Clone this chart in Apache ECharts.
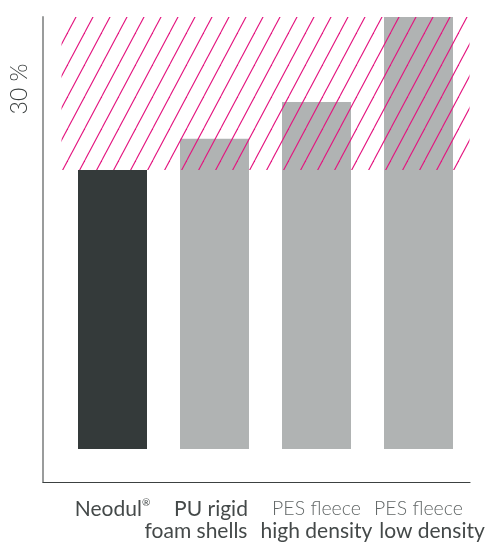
<!DOCTYPE html>
<html>
<head>
<meta charset="utf-8">
<script src="https://cdn.jsdelivr.net/npm/echarts@6/dist/echarts.min.js"></script>
<style>html,body{margin:0;padding:0;background:#fff}#c{width:489px;height:542px}</style>
</head>
<body>
<div id="c"></div>
<script>
var categories = ['Neodul', 'PU rigid', 'PES high', 'PES low'];
var labelLines = [
  ['{d|Neodul}{sup|®}', ''],
  ['{pu|PU rigid}', '{fs|foam shells}'],
  ['{l|PES fleece}', '{d|high density}'],
  ['{l|PES fleece}', '{ld|low density}']
];
var values = [64.6, 71.8, 80.3, 100];
var barColors = ['#343a3a', '#b0b3b3', '#b0b3b3', '#b0b3b3'];
var bandFrom = 64.6, bandTo = 100;
var bandLabel = '30 %';

function makeHatch() {
  var w = 17, h = 32;
  var c = document.createElement('canvas');
  c.width = w; c.height = h;
  var g = c.getContext('2d');
  g.strokeStyle = '#e4147f';
  g.lineWidth = 1.1;
  for (var k = -1; k <= 1; k++) {
    g.beginPath();
    g.moveTo(k * w, h);
    g.lineTo(k * w + w, 0);
    g.stroke();
  }
  return c;
}

var chart = echarts.init(document.getElementById('c'));
var font = 'Lato, "Open Sans", sans-serif';
var fs = 21, lh = 22, dark = '#444949';
chart.setOption({
  animation: false,
  grid: [
    {left: 61.5, right: 19.5, top: 17, bottom: 60},
    {left: 43, right: 19, top: 17, bottom: 60}
  ],
  xAxis: [
    {
      type: 'category', gridIndex: 0, data: categories,
      axisLine: {show: false}, axisTick: {show: false},
      axisLabel: {
        interval: 0, margin: 16, fontFamily: font,
        formatter: function (v, i) { return labelLines[i].join('\n'); },
        rich: {
          d: {fontSize: fs, color: dark, fontFamily: font, lineHeight: lh},
          pu: {fontSize: fs, color: dark, fontFamily: font, lineHeight: lh, padding: [0, 7, 0, 0]},
          fs: {fontSize: fs, color: dark, fontFamily: font, lineHeight: lh, padding: [0, 37, 0, 0]},
          ld: {fontSize: fs, color: dark, fontFamily: font, lineHeight: lh, padding: [0, 0, 0, 27]},
          l: {fontSize: 19.5, color: '#626767', fontFamily: font, fontWeight: 300, lineHeight: lh},
          sup: {fontSize: 10, color: dark, fontFamily: font, verticalAlign: 'top', lineHeight: lh, padding: [0, 0, 8, 0]}
        }
      }
    },
    {
      type: 'value', gridIndex: 1, min: 0, max: 1,
      axisLine: {show: true, lineStyle: {color: '#3c4141', width: 1.2}},
      axisTick: {show: false}, axisLabel: {show: false}, splitLine: {show: false}
    }
  ],
  yAxis: [
    {
      type: 'value', gridIndex: 0, min: -7.64, max: 100,
      axisLine: {show: false}, axisTick: {show: false}, axisLabel: {show: false}, splitLine: {show: false}
    },
    {
      type: 'value', gridIndex: 1, min: 0, max: 1,
      axisLine: {show: true, lineStyle: {color: '#9a9c9c', width: 2}},
      axisTick: {show: false}, axisLabel: {show: false}, splitLine: {show: false}
    }
  ],
  graphic: [{
    type: 'text', x: 20, y: 89, rotation: Math.PI / 2,
    style: {text: bandLabel, fontSize: 23, fontFamily: font, fontWeight: 300, fill: '#3a3f3f', align: 'center', verticalAlign: 'middle'}
  }],
  series: [{
    type: 'bar', xAxisIndex: 0, yAxisIndex: 0, barWidth: 69,
    data: values.map(function (v, i) { return {value: v, itemStyle: {color: barColors[i]}}; }),
    markArea: {
      z: 5, silent: true,
      itemStyle: {color: {image: makeHatch(), repeat: 'repeat'}},
      label: {show: false},
      data: [[{yAxis: bandFrom}, {yAxis: bandTo}]]
    }
  }]
});
</script>
</body>
</html>
